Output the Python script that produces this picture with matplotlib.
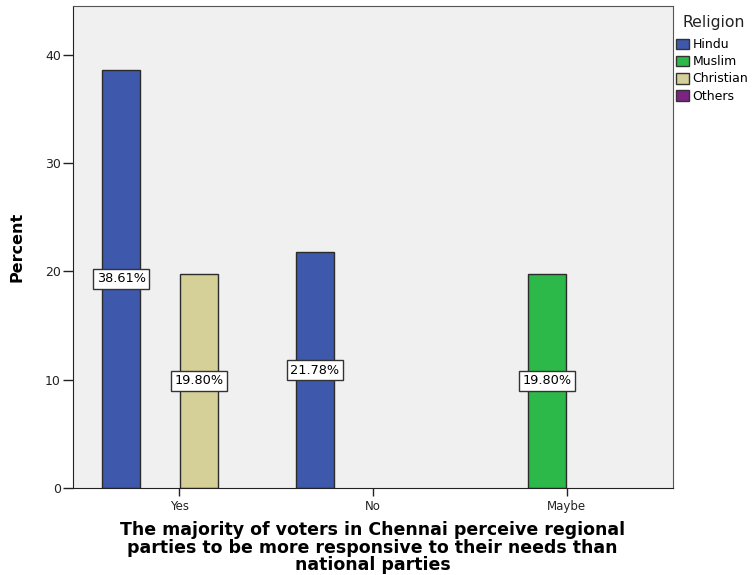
import numpy as np
import matplotlib.pyplot as plt
from matplotlib.patches import Patch

# Data
categories = ['Yes', 'No', 'Maybe']
religions = ['Hindu', 'Muslim', 'Christian', 'Others']
hindu = [38.61, 21.78, 0.0]
muslim = [0.0, 0.0, 19.80]
christian = [19.80, 0.0, 0.0]
others = [0.0, 0.0, 0.0]
series = [hindu, muslim, christian, others]
colors = ['#3E58AC', '#2DB84A', '#D5CF98', '#7D2383']

plt.rcParams['font.family'] = ['DejaVu Sans']

fig = plt.figure(figsize=(7.56, 5.75), dpi=100)
ax = fig.add_axes([0.096, 0.151, 0.794, 0.839])
ax.set_facecolor('#F0F0F0')

x = np.arange(len(categories))
width = 0.2
offsets = [-0.3, -0.1, 0.1, 0.3]

for vals, off, col in zip(series, offsets, colors):
    for xi, v in zip(x, vals):
        if v <= 0:
            continue
        ax.bar(xi + off, v, width=width * 0.985, color=col,
               edgecolor='#2b2b2b', linewidth=1.0, zorder=2)
        ax.text(xi + off, v / 2, f'{v:.2f}%', ha='center', va='center',
                fontsize=9.3, zorder=3,
                bbox=dict(boxstyle='square,pad=0.28', facecolor='white',
                          edgecolor='#333333', linewidth=1.0))

ax.set_xlim(-0.552, 2.549)
ax.set_ylim(0, 44.5)
ax.set_xticks(x)
ax.set_xticklabels(categories, fontsize=8.5, color='#222222')
ax.set_yticks([0, 10, 20, 30, 40])
ax.tick_params(axis='y', labelsize=9, colors='#222222', length=7.5, width=1, pad=1)
ax.tick_params(axis='x', length=5.5, width=1, colors='#222222', pad=3)
for s in ['left', 'bottom']:
    ax.spines[s].set_color('#222222')
for s in ['top', 'right']:
    ax.spines[s].set_color('#555555')

ax.set_ylabel('Percent', fontsize=11.5, fontweight='bold', labelpad=15)
ax.set_xlabel('The majority of voters in Chennai perceive regional\n'
              'parties to be more responsive to their needs than\n'
              'national parties', fontsize=12.5, fontweight='bold',
              linespacing=0.97, labelpad=6)

fig.text(683 / 756, 1 - 22 / 575, 'Religion', fontsize=11.3,
         ha='left', va='center', color='#222222')
handles = [Patch(facecolor=c, edgecolor='#333333', linewidth=1) for c in colors]
fig.legend(handles, religions, loc='upper left',
           bbox_to_anchor=(0.893, 1 - 37 / 575), frameon=False, fontsize=9,
           handlelength=1.05, handleheight=0.95,
           handletextpad=0.25, labelspacing=0.33, borderaxespad=0,
           borderpad=0.1)

fig.savefig('out.png', dpi=100, facecolor='white')
